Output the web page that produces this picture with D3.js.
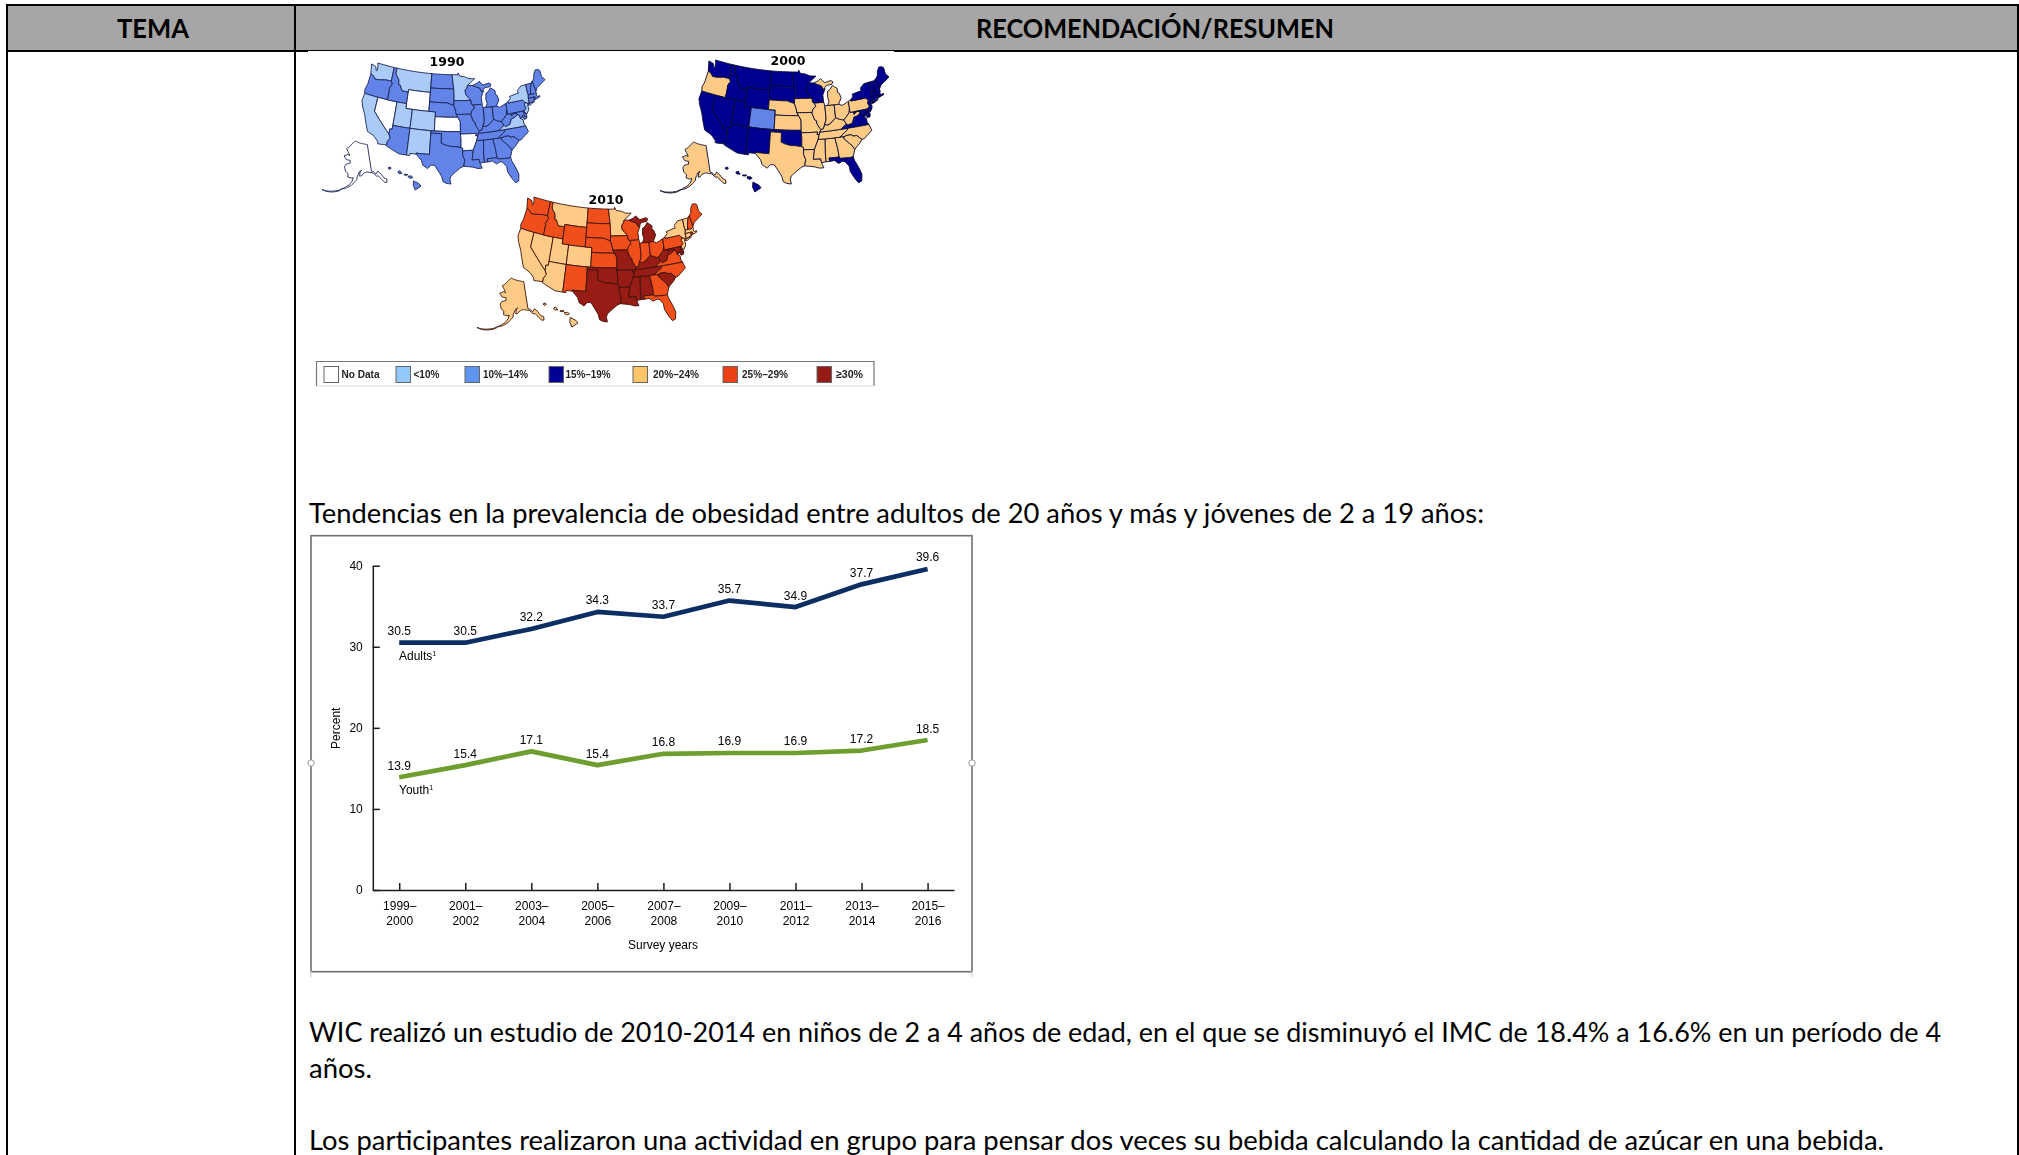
<!DOCTYPE html>
<html>
<head>
<meta charset="utf-8">
<script src="https://cdn.jsdelivr.net/npm/d3@7"></script>
<style>
  html, body { margin: 0; padding: 0; background: #fff; }
  svg { display: block; }
  text { fill: #000; }
</style>
</head>
<body>
<div id="vis"></div>
<script>
// line chart values
const surveyYears = ["1999–2000", "2001–2002", "2003–2004", "2005–2006", "2007–2008", "2009–2010", "2011–2012", "2013–2014", "2015–2016"];
const adults = [30.5, 30.5, 32.2, 34.3, 33.7, 35.7, 34.9, 37.7, 39.6];
const youth = [13.9, 15.4, 17.1, 15.4, 16.8, 16.9, 16.9, 17.2, 18.5];
const percentTicks = [0, 10, 20, 30, 40];

// map legend, index in these is the "band" used by the year lists below
const bandLabels = ["No Data", "<10%", "10%–14%", "15%–19%", "20%–24%", "25%–29%", "≥30%"];
const bandColors = ["#ffffff", "#a9cbf6", "#6284e8", "#000090", "#fdcb85", "#f04f1c", "#971a12"];
const legendColors = ["#ffffff", "#93c8fd", "#5f95f2", "#000096", "#fec568", "#ee4014", "#951a12"];

const bands1990 = [
  ["NV", "WY", "KS", "AR", "AK"],
  ["WA", "MT", "MN", "CA", "UT", "CO", "NM", "NY", "VA", "NJ"],
  ["OR", "ID", "AZ", "ND", "SD", "NE", "OK", "TX", "IA", "MO", "LA", "WI", "MI", "IL", "IN", "OH", "KY", "TN", "MS", "AL", "GA", "FL", "SC", "NC", "WV", "PA", "MD", "DE", "VT", "NH", "ME", "MA", "CT", "RI", "HI"]
];
const bands2000 = [
  [], [],
  ["CO"],
  ["WA", "CA", "NV", "ID", "MT", "WY", "UT", "AZ", "NM", "ND", "SD", "MN", "WI", "OK", "FL", "VA", "MD", "DE", "NJ", "NY", "CT", "RI", "MA", "VT", "NH", "ME", "HI"],
  ["OR", "TX", "NE", "KS", "IA", "MO", "IL", "IN", "OH", "MI", "KY", "TN", "WV", "PA", "AR", "LA", "MS", "AL", "GA", "SC", "NC", "AK"]
];
const bands2010 = [
  [], [], [], [],
  ["CA", "NV", "UT", "CO", "AZ", "MT", "MN", "NY", "VT", "MA", "CT", "NJ", "AK", "HI"],
  ["WA", "OR", "ID", "WY", "ND", "SD", "NE", "KS", "IA", "WI", "IL", "IN", "OH", "PA", "VA", "NC", "GA", "FL", "NM", "ME", "NH", "RI"],
  ["TX", "OK", "MO", "AR", "LA", "MS", "AL", "TN", "KY", "WV", "SC", "MI", "MD", "DE"]
];

// rough state outlines, lon/lat, each state is a list of rings
const stateShapes = {
  WA: [[[-124.7,48.4],[-123.1,48.15],[-122.6,47.3],[-122.3,47.5],[-122.4,48.3],[-122.75,49],[-117,49],[-117,46],[-118.9,46],[-119.3,45.9],[-121.2,45.6],[-122.3,45.55],[-122.8,45.9],[-123.4,46.2],[-124,46.3],[-124.3,47.2]]],
  OR: [[[-124,46.3],[-123.4,46.2],[-122.8,45.9],[-122.3,45.55],[-121.2,45.6],[-119.3,45.9],[-118.9,46],[-117,46],[-116.9,45.9],[-116.5,45.5],[-117.2,44.4],[-117,44.2],[-117,42],[-124.2,42],[-124.5,42.8],[-124.1,44]]],
  CA: [[[-124.2,42],[-120,42],[-120,39],[-114.6,35],[-114.1,34.3],[-114.7,33.4],[-114.7,32.7],[-117.1,32.5],[-117.3,33],[-118.4,33.8],[-119.2,34.1],[-120.6,34.5],[-121.9,36.6],[-122.5,37.7],[-123.8,39.3],[-124.4,40.4]]],
  NV: [[[-120,42],[-117,42],[-114,42],[-114,36.2],[-114.7,36.1],[-114.6,35],[-120,39]]],
  ID: [[[-117,49],[-116,49],[-116.05,48],[-115.7,47.5],[-114.7,46.7],[-114.4,45.6],[-113.9,45.6],[-113.4,44.9],[-113,44.5],[-112,44.5],[-111.05,44.5],[-111.05,42],[-114,42],[-117,42],[-117,44.2],[-117.2,44.4],[-116.5,45.5],[-116.9,45.9],[-117,46]]],
  MT: [[[-116,49],[-104.05,49],[-104.05,45],[-111.05,45],[-111.05,44.5],[-112,44.5],[-113,44.5],[-113.4,44.9],[-113.9,45.6],[-114.4,45.6],[-114.7,46.7],[-115.7,47.5],[-116.05,48]]],
  WY: [[[-111.05,45],[-104.05,45],[-104.05,41],[-111.05,41]]],
  UT: [[[-114,42],[-111.05,42],[-111.05,41],[-109.05,41],[-109.05,37],[-114,37]]],
  CO: [[[-109.05,41],[-102.05,41],[-102.05,37],[-109.05,37]]],
  AZ: [[[-114,37],[-109.05,37],[-109.05,31.33],[-111.07,31.33],[-114.8,32.5],[-114.7,32.7],[-114.7,33.4],[-114.1,34.3],[-114.6,35],[-114.7,36.1],[-114,36.2]]],
  NM: [[[-109.05,37],[-103,37],[-103,32],[-106.6,32],[-106.5,31.78],[-108.2,31.78],[-108.2,31.33],[-109.05,31.33]]],
  ND: [[[-104.05,49],[-97.2,49],[-96.6,46],[-104.05,45.95]]],
  SD: [[[-104.05,45.95],[-96.6,46],[-96.5,45.3],[-96.45,43.5],[-96.5,42.5],[-97.9,42.8],[-98.5,43],[-104.05,43]]],
  NE: [[[-104.05,43],[-98.5,43],[-97.9,42.8],[-96.5,42.5],[-96,41.5],[-95.75,40.6],[-95.3,40],[-102.05,40],[-102.05,41],[-104.05,41]]],
  KS: [[[-102.05,40],[-95.3,40],[-94.6,39.1],[-94.6,37],[-102.05,37]]],
  OK: [[[-103,37],[-94.6,37],[-94.6,36.5],[-94.45,35.4],[-94.5,33.65],[-96,33.85],[-97.5,33.9],[-99,34.2],[-100,34.55],[-100,36.5],[-103,36.5]]],
  TX: [[[-103,36.5],[-100,36.5],[-100,34.55],[-99,34.2],[-97.5,33.9],[-96,33.85],[-94.5,33.65],[-94.05,33.5],[-94.05,33],[-94.05,32],[-93.55,31],[-93.85,29.7],[-94.7,29.4],[-95.9,28.6],[-97.2,27.6],[-97.4,26.9],[-97.15,25.95],[-98.2,26.05],[-99.1,26.4],[-99.5,27.5],[-100.4,28.6],[-101.4,29.77],[-102.4,29.8],[-103.2,29],[-104.5,29.6],[-105,30.6],[-106.5,31.78],[-106.6,32],[-103,32]]],
  MN: [[[-97.2,49],[-95.15,49],[-95.15,49.4],[-94.6,48.7],[-93,48.55],[-91.5,48.1],[-89.6,48],[-92,46.7],[-92.3,46.1],[-92.9,45.6],[-92.75,44.75],[-91.2,43.5],[-96.45,43.5],[-96.5,45.3],[-96.6,46]]],
  IA: [[[-96.45,43.5],[-91.2,43.5],[-91.1,42.7],[-90.65,42.5],[-90.2,41.8],[-91.1,41.2],[-91.4,40.4],[-91.7,40.6],[-95.75,40.6],[-96,41.5],[-96.5,42.5]]],
  MO: [[[-95.75,40.6],[-91.7,40.6],[-91.4,40.4],[-90.7,39],[-90.2,38.8],[-90.2,38.3],[-89.5,37.3],[-89.15,37],[-89.5,36.5],[-89.7,36],[-90.35,36],[-90.1,36.5],[-94.6,36.5],[-94.6,37],[-94.6,39.1],[-95.3,40]]],
  AR: [[[-94.6,36.5],[-90.1,36.5],[-90.35,36],[-89.7,36],[-90.1,35],[-91.2,33],[-94.05,33],[-94.05,33.5],[-94.5,33.65],[-94.45,35.4]]],
  LA: [[[-94.05,33],[-91.2,33],[-91.6,31],[-89.75,31],[-89.55,30.2],[-89.4,29.8],[-89.1,29.1],[-90.2,29.1],[-91.3,29.4],[-92.3,29.55],[-93.85,29.7],[-93.55,31],[-94.05,32]]],
  MS: [[[-90.1,35],[-88.2,35],[-88.45,31.9],[-88.4,30.3],[-89.55,30.2],[-89.75,31],[-91.6,31],[-91.2,33]]],
  AL: [[[-88.2,35],[-85.6,35],[-85.15,32.8],[-85,31],[-87.6,31],[-87.5,30.3],[-88.4,30.3],[-88.45,31.9]]],
  TN: [[[-90.1,35],[-89.7,36],[-89.5,36.5],[-88.05,36.5],[-83.7,36.6],[-81.7,36.6],[-82.2,36.15],[-84.3,35],[-85.6,35],[-88.2,35]]],
  KY: [[[-89.5,36.5],[-89.15,37],[-88.5,37.1],[-88.1,37.9],[-87.1,37.8],[-86.3,38.1],[-85.4,38.7],[-84.8,39.1],[-83.7,38.65],[-82.6,38.4],[-82,37.5],[-83.7,36.6],[-88.05,36.5]]],
  IL: [[[-90.65,42.5],[-87.8,42.5],[-87.55,41.75],[-87.5,39.35],[-87.6,38.7],[-88.1,37.9],[-88.5,37.1],[-89.15,37],[-89.5,37.3],[-90.2,38.3],[-90.2,38.8],[-90.7,39],[-91.4,40.4],[-91.1,41.2],[-90.2,41.8]]],
  WI: [[[-92,46.7],[-90.5,46.6],[-88.1,45.9],[-87.6,45.1],[-87,45.3],[-87.9,44],[-87.8,42.5],[-90.65,42.5],[-91.1,42.7],[-91.2,43.5],[-92.75,44.75],[-92.9,45.6],[-92.3,46.1]]],
  MI: [
    [[-86.8,41.76],[-84.8,41.7],[-83.45,41.73],[-82.5,43],[-82.9,44],[-83.4,44.2],[-83.3,45],[-84.7,45.75],[-85.5,45],[-86.3,44.7],[-86.5,43.5],[-86.2,42.5]],
    [[-90.5,46.6],[-88.1,45.9],[-87.6,45.1],[-86.5,45.9],[-84.8,46],[-84.4,46.5],[-85,46.8],[-87,46.5],[-88.2,47.4],[-88.9,47]]
  ],
  IN: [[[-87.55,41.75],[-86.8,41.76],[-84.8,41.7],[-84.8,39.1],[-85.4,38.7],[-86.3,38.1],[-87.1,37.8],[-88.1,37.9],[-87.6,38.7],[-87.5,39.35]]],
  OH: [[[-84.8,41.7],[-83.45,41.73],[-82.5,41.4],[-80.52,42],[-80.52,40.6],[-80.8,39.7],[-81.7,39],[-82.6,38.4],[-83.7,38.65],[-84.8,39.1]]],
  WV: [[[-82.6,38.4],[-81.7,39],[-80.8,39.7],[-80.52,40.6],[-80.52,39.72],[-79.48,39.72],[-79.48,39.2],[-78.8,39.6],[-78.2,39.68],[-77.72,39.32],[-77.85,39.1],[-78.9,38.7],[-79.65,38.6],[-80.3,37.5],[-81.7,37.2],[-82,37.5]]],
  VA: [[[-83.7,36.6],[-82,37.5],[-81.7,37.2],[-80.3,37.5],[-79.65,38.6],[-78.9,38.7],[-77.85,39.1],[-77.72,39.32],[-77.1,38.9],[-77,38.3],[-76.3,37.9],[-76.3,37],[-75.95,36.55],[-81.7,36.6]]],
  NC: [[[-81.7,36.6],[-75.95,36.55],[-75.5,35.25],[-76.5,34.7],[-77.9,33.9],[-78.55,33.85],[-79.7,34.8],[-80.8,34.85],[-81,35.15],[-82.3,35.2],[-83.1,35],[-84.3,35],[-82.2,36.15]]],
  SC: [[[-83.1,35],[-82.3,35.2],[-81,35.15],[-80.8,34.85],[-79.7,34.8],[-78.55,33.85],[-79.2,33.2],[-80.8,32.1],[-81.4,33],[-82,33.5],[-83.35,34.7]]],
  GA: [[[-85.6,35],[-84.3,35],[-83.1,35],[-83.35,34.7],[-82,33.5],[-81.4,33],[-80.8,32.1],[-81.45,30.7],[-82.2,30.55],[-84.85,30.7],[-85,31],[-85.15,32.8]]],
  FL: [[[-87.6,31],[-85,31],[-84.85,30.7],[-82.2,30.55],[-81.45,30.7],[-81.3,29.9],[-80.55,28.4],[-80,26.8],[-80.3,25.4],[-81.1,25.15],[-81.8,26.1],[-82.7,27.7],[-82.8,28.9],[-83.7,29.9],[-84.3,30.05],[-85.3,29.7],[-86.3,30.4],[-87.5,30.3]]],
  PA: [[[-80.52,42],[-79.76,42.27],[-79.76,42],[-75.35,42],[-74.7,41.36],[-75.1,40.9],[-74.75,40.15],[-75.42,39.8],[-75.8,39.72],[-79.48,39.72],[-80.52,39.72],[-80.52,40.6]]],
  NY: [
    [[-79.76,42.27],[-78.9,42.9],[-79.1,43.3],[-76.8,43.6],[-76.2,43.6],[-76.3,44.2],[-75,44.95],[-73.35,45],[-73.4,43.6],[-73.25,42.75],[-73.5,42.05],[-73.5,41.3],[-73.65,41],[-73.9,41],[-74.7,41.36],[-75.35,42],[-79.76,42]],
    [[-74,40.6],[-73.7,40.9],[-72.3,41.1],[-71.9,41.05],[-73.3,40.6]]
  ],
  NJ: [[[-74.7,41.36],[-73.9,41],[-74.2,40.5],[-74,40.2],[-74.2,39.6],[-74.9,38.95],[-75.5,39.55],[-75.42,39.8],[-74.75,40.15],[-75.1,40.9]]],
  DE: [[[-75.8,39.72],[-75.42,39.8],[-75.55,39.5],[-75.1,38.8],[-75.05,38.45],[-75.7,38.45]]],
  MD: [[[-79.48,39.72],[-75.8,39.72],[-75.7,38.45],[-75.05,38.45],[-75.25,38.03],[-76,37.95],[-76.3,38.9],[-76.5,38.3],[-77,38.3],[-77.1,38.9],[-77.72,39.32],[-78.2,39.68],[-78.8,39.6],[-79.48,39.2]]],
  CT: [[[-73.5,42.05],[-71.8,42.02],[-71.85,41.32],[-73.65,41],[-73.5,41.3]]],
  RI: [[[-71.8,42.02],[-71.38,42.02],[-71.15,41.5],[-71.85,41.32]]],
  MA: [[[-73.25,42.75],[-71.3,42.7],[-70.85,42.87],[-70.6,42.65],[-71,42.3],[-70.5,41.8],[-70.05,42.05],[-69.95,41.7],[-71.15,41.5],[-71.38,42.02],[-71.8,42.02],[-73.5,42.05]]],
  VT: [[[-73.35,45],[-71.5,45],[-72.05,44.1],[-72.45,43],[-72.45,42.73],[-73.25,42.75],[-73.4,43.6]]],
  NH: [[[-71.5,45],[-71.3,45.3],[-71,45.3],[-70.7,43.1],[-70.85,42.87],[-71.3,42.7],[-72.45,42.73],[-72.45,43],[-72.05,44.1]]],
  ME: [[[-71,45.3],[-70.3,45.9],[-70,46.7],[-69.2,47.45],[-68.3,47.35],[-67.8,47.05],[-67.8,45.7],[-67,44.85],[-68.5,44.3],[-70,43.75],[-70.7,43.1]]]
};
const alaskaShape = [
  [[-141,69.65],[-141,60.3],[-139.5,60],[-137.5,58.9],[-135.5,59.7],[-133.5,58.4],[-131.8,56.6],[-130,55.9],[-130.5,54.8],[-132,55],[-134,56.5],[-135.8,58],[-137.5,58.2],[-139.8,59.6],[-142.5,60],[-145,60.4],[-147.5,60.2],[-148.5,60],[-150,59.3],[-151.8,59.2],[-151.3,60.6],[-150,61.2],[-151.8,60.8],[-153,59.8],[-154,59],[-154,58.2],[-156.5,57],[-158.5,56],[-160.5,55.4],[-163,54.7],[-164.7,54.5],[-163,55.2],[-160.5,56],[-158,57.5],[-157.3,58.7],[-159,58.5],[-162,58.7],[-162,59.9],[-164.5,60.5],[-165.4,61.5],[-166,62],[-164.7,63],[-161,63.5],[-161,64.5],[-165,64.5],[-168,65.6],[-164,66.4],[-162,66.1],[-163.5,67],[-166.5,68.3],[-163,69.2],[-160,70.4],[-156.6,71.35],[-152,70.8],[-148,70.4],[-144,70]],
  [[-164.8,54.6],[-168,53.5],[-172,52.6],[-176,51.9],[-179.5,51.6],[-176,51.7],[-172,52.3],[-168,53.2],[-164.8,54.4]]
];
const hawaiiShape = [
  [[-155.9,20.25],[-155.1,19.85],[-154.8,19.5],[-155.65,18.95],[-155.95,19.6]],
  [[-156.7,20.95],[-156.25,20.95],[-156,20.75],[-156.4,20.6],[-156.7,20.8]],
  [[-157.3,21.2],[-156.75,21.17],[-156.9,21.05],[-157.3,21.08]],
  [[-158.25,21.55],[-157.95,21.7],[-157.65,21.3],[-158.1,21.3]],
  [[-159.75,22.1],[-159.4,22.23],[-159.3,22],[-159.6,21.9]]
];

var svg = d3.select("#vis").append("svg")
  .attr("width", 2019)
  .attr("height", 1155)
  .attr("viewBox", "0 0 2019 1155");

// the pictures in the reference are soft scans
var defs = svg.append("defs");
defs.append("filter").attr("id", "soft")
  .append("feGaussianBlur").attr("stdDeviation", 0.45);

// squeeze or stretch a text to the width it has in the picture
function fit(sel, w) {
  return sel.attr("textLength", w).attr("lengthAdjust", "spacingAndGlyphs");
}

// ---- table around everything
const tableFont = "Lato, Carlito, Calibri, sans-serif";
svg.append("rect").attr("x", 7).attr("y", 5).attr("width", 2010).attr("height", 46).attr("fill", "#a6a6a6");
var grid = svg.append("g").attr("stroke", "#000").attr("stroke-width", 2);
grid.append("line").attr("x1", 6).attr("x2", 2018).attr("y1", 5).attr("y2", 5);
grid.append("line").attr("x1", 6).attr("x2", 2018).attr("y1", 51).attr("y2", 51);
grid.append("line").attr("x1", 7).attr("x2", 7).attr("y1", 4).attr("y2", 1155);
grid.append("line").attr("x1", 295).attr("x2", 295).attr("y1", 4).attr("y2", 1155);
grid.append("line").attr("x1", 2018).attr("x2", 2018).attr("y1", 4).attr("y2", 1155);
// pasted image covers part of the header rule
svg.append("rect").attr("x", 308).attr("y", 51).attr("width", 586).attr("height", 1).attr("fill", "#fff");

fit(svg.append("text").attr("x", 117).attr("y", 38)
  .style("font", "bold 27px " + tableFont).text("TEMA"), 72);
fit(svg.append("text").attr("x", 976).attr("y", 38)
  .style("font", "bold 27px " + tableFont).text("RECOMENDACIÓN/RESUMEN"), 358);

var bodyLines = [
  { text: "Tendencias en la prevalencia de obesidad entre adultos de 20 años y más y jóvenes de 2 a 19 años:", y: 523, w: 1175 },
  { text: "WIC realizó un estudio de 2010-2014 en niños de 2 a 4 años de edad, en el que se disminuyó el IMC de 18.4% a 16.6% en un período de 4", y: 1042, w: 1632 },
  { text: "años.", y: 1078, w: 63 },
  { text: "Los participantes realizaron una actividad en grupo para pensar dos veces su bebida calculando la cantidad de azúcar en una bebida.", y: 1150, w: 1575 }
];
bodyLines.forEach(l => {
  fit(svg.append("text").attr("x", 309).attr("y", l.y)
    .style("font", "27px " + tableFont).text(l.text), l.w);
});

// ---- maps
const lowerProj = d3.geoAlbers().rotate([96, 0]).center([0, 37.5]).parallels([29.5, 45.5]).scale(1000).translate([0, 0]);
const akProj = d3.geoAlbers().rotate([154, 0]).center([0, 62]).parallels([55, 65]).scale(1000).translate([0, 0]);
const hiProj = d3.geoAlbers().rotate([157, 0]).center([0, 20]).parallels([8, 18]).scale(1000).translate([0, 0]);

// long straight edges need extra points so the conic curve shows
function densify(ring) {
  var out = [];
  ring.forEach((p, i) => {
    var q = ring[(i + 1) % ring.length];
    var steps = Math.max(1, Math.ceil(Math.abs(q[0] - p[0])));
    for (var s = 0; s < steps; s++) {
      out.push([p[0] + (q[0] - p[0]) * s / steps, p[1] + (q[1] - p[1]) * s / steps]);
    }
  });
  return out;
}

// project rings and stretch them into a box, the scans are a bit taller than true albers
function boxScales(rings, proj, box) {
  var pts = rings.flat().map(proj);
  return {
    x: d3.scaleLinear().domain(d3.extent(pts, d => d[0])).range([box[0], box[1]]),
    y: d3.scaleLinear().domain(d3.extent(pts, d => d[1])).range([box[2], box[3]])
  };
}
function ringsPath(rings, proj, sc) {
  var line = d3.line();
  return rings.map(r => line(densify(r).map(p => {
    var q = proj(p);
    return [sc.x(q[0]), sc.y(q[1])];
  })) + "Z").join("");
}

const lowerRings = Object.values(stateShapes).flat();

var maps = [
  { year: "1990", bands: bands1990, stroke: "#1b2456", tx: 447, ty: 66, lower: [362, 545, 63, 184], ak: [322, 387, 141, 192], hi: [388, 421, 167, 190] },
  { year: "2000", bands: bands2000, stroke: "#0a0a30", tx: 788, ty: 65, lower: [699, 889, 60, 184], ak: [660, 726, 142, 193], hi: [725, 761, 167, 192] },
  { year: "2010", bands: bands2010, stroke: "#3a1208", tx: 606, ty: 204, lower: [518, 702, 197, 322], ak: [477, 544, 278, 330], hi: [543, 578, 303, 327] }
];

var mapLayer = svg.append("g").attr("filter", "url(#soft)");

maps.forEach(m => {
  var bandOf = {};
  m.bands.forEach((list, i) => list.forEach(st => { bandOf[st] = i; }));

  var sc = boxScales(lowerRings, lowerProj, m.lower);
  var shapes = Object.keys(stateShapes).map(st => ({
    st: st,
    d: ringsPath(stateShapes[st], lowerProj, sc)
  }));
  shapes.push({ st: "AK", d: ringsPath(alaskaShape, akProj, boxScales(alaskaShape, akProj, m.ak)) });
  shapes.push({ st: "HI", d: ringsPath(hawaiiShape, hiProj, boxScales(hawaiiShape, hiProj, m.hi)) });

  mapLayer.append("g").selectAll("path")
    .data(shapes)
    .enter()
    .append("path")
      .attr("d", d => d.d)
      .attr("fill", d => bandColors[bandOf[d.st]])
      .attr("stroke", m.stroke)
      .attr("stroke-width", 0.9)
      .attr("stroke-linejoin", "round");

  mapLayer.append("text")
    .attr("x", m.tx).attr("y", m.ty)
    .attr("text-anchor", "middle")
    .style("font", "bold 12.5px 'DejaVu Sans', sans-serif")
    .text(m.year);
});

// ---- map legend
var legendX = [324, 396, 465, 549, 633, 723, 817];
var legendTextX = [341.5, 413.5, 483, 565.5, 653, 742, 836];
var legendW = [38, 26, 45, 45, 46, 46, 27];
var legend = svg.append("g").attr("filter", "url(#soft)");
legend.append("path")
  .attr("d", "M316.5,386V361.5H874V386")
  .attr("fill", "none").attr("stroke", "#777").attr("stroke-width", 1.2);
legend.append("line").attr("x1", 316.5).attr("x2", 874).attr("y1", 386).attr("y2", 386)
  .attr("stroke", "#ddd");
legend.selectAll("rect").data(bandLabels).enter().append("rect")
  .attr("x", (d, i) => legendX[i])
  .attr("y", 366.5)
  .attr("width", 14.5)
  .attr("height", 16)
  .attr("fill", (d, i) => legendColors[i])
  .attr("stroke", "#666")
  .attr("stroke-width", 1);
legend.selectAll("text").data(bandLabels).enter().append("text")
  .attr("x", (d, i) => legendTextX[i])
  .attr("y", 377.5)
  .attr("textLength", (d, i) => legendW[i])
  .attr("lengthAdjust", "spacingAndGlyphs")
  .style("font", "bold 11.5px 'Liberation Sans', Arial, sans-serif")
  .style("fill", "#222")
  .text(d => d);

// ---- line chart
var chart = svg.append("g")
  .attr("filter", "url(#soft)")
  .style("font-family", "'Liberation Sans', Arial, sans-serif")
  .style("font-size", "12px");

// frame of the pasted picture
chart.append("rect").attr("x", 311).attr("y", 535.7).attr("width", 661).attr("height", 436)
  .attr("fill", "#fff").attr("stroke", "#707070").attr("stroke-width", 1.6);
[311, 972].forEach(x => {
  chart.append("line").attr("x1", x).attr("x2", x).attr("y1", 971).attr("y2", 977).attr("stroke", "#ccc");
  chart.append("circle").attr("cx", x).attr("cy", 763).attr("r", 3.2)
    .attr("fill", "#fff").attr("stroke", "#999");
});

var x = d3.scalePoint().domain(surveyYears).range([372.8, 954]).padding(0.4);
var y = d3.scaleLinear().domain([0, 40]).range([890, 565.7]);

var xAxis = chart.append("g")
  .attr("transform", "translate(0,890)")
  .call(d3.axisBottom(x).tickSizeInner(-7).tickSizeOuter(0).tickFormat(""));
var yAxis = chart.append("g")
  .attr("transform", "translate(372.8,0)")
  .call(d3.axisLeft(y).tickValues(percentTicks).tickSizeInner(-7).tickSizeOuter(0).tickPadding(10));
[xAxis, yAxis].forEach(a => {
  a.selectAll("path,line").attr("stroke", "#1d1d1d").attr("stroke-width", 1.5);
});
yAxis.selectAll("text").style("font-size", "12px").attr("fill", "#222");

// two line labels under the x ticks
xAxis.selectAll(".tick").each(function (d) {
  var parts = d.split("–");
  var t = d3.select(this);
  t.select("text").remove();
  t.append("text").attr("y", 20).attr("text-anchor", "middle").attr("fill", "#222")
    .style("font-size", "12px").text(parts[0] + "–");
  t.append("text").attr("y", 35).attr("text-anchor", "middle").attr("fill", "#222")
    .style("font-size", "12px").text(parts[1]);
});

var line = d3.line().x((d, i) => x(surveyYears[i])).y(d => y(d));
var seriesList = [
  { name: "Adults", values: adults, color: "#0e2f64", labelY: 660 },
  { name: "Youth", values: youth, color: "#6e9f2f", labelY: 793.5 }
];
seriesList.forEach(s => {
  chart.append("path")
    .datum(s.values)
    .attr("d", line)
    .attr("fill", "none")
    .attr("stroke", s.color)
    .attr("stroke-width", 4.7)
    .attr("stroke-linejoin", "round");

  chart.append("g").selectAll("text")
    .data(s.values)
    .enter()
    .append("text")
      .attr("x", (d, i) => x(surveyYears[i]))
      .attr("y", d => y(d) - 7.5)
      .attr("text-anchor", "middle")
      .attr("fill", "#222")
      .text(d => d.toFixed(1));

  var lab = chart.append("text")
    .attr("x", 399).attr("y", s.labelY).attr("fill", "#222");
  lab.append("tspan").text(s.name);
  lab.append("tspan").attr("dy", -4).style("font-size", "7px").text("1");
});

chart.append("text")
  .attr("x", 663).attr("y", 949)
  .attr("text-anchor", "middle").attr("fill", "#222")
  .text("Survey years");

chart.append("text")
  .attr("transform", "translate(339.5,728.3) rotate(-90)")
  .attr("text-anchor", "middle").attr("fill", "#222")
  .text("Percent");
</script>
</body>
</html>
